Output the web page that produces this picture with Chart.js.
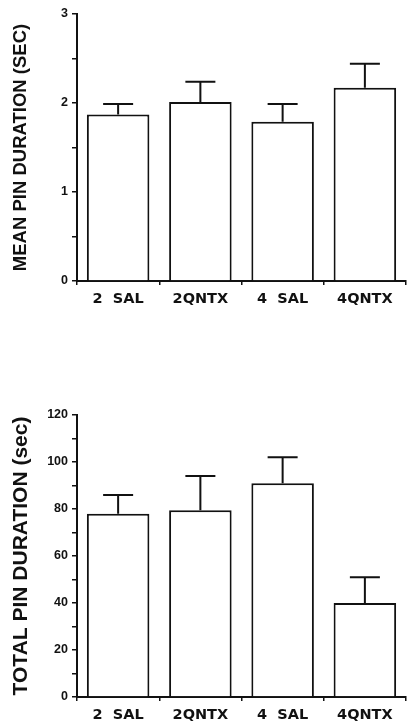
<!DOCTYPE html>
<html>
<head>
<meta charset="utf-8">
<script src="https://cdn.jsdelivr.net/npm/chart.js@4/dist/chart.umd.min.js"></script>
<style>
  html, body { margin: 0; padding: 0; background: #fff; }
  body { width: 411px; height: 727px; position: relative; overflow: hidden; }
  canvas { position: absolute; left: 0; }
  #meanChart { top: 0; }
  #totalChart { top: 380px; }
</style>
</head>
<body>
<canvas id="meanChart" width="411" height="320"></canvas>
<canvas id="totalChart" width="411" height="347"></canvas>
<script>
// groups along the x axis
const categories = ['2  SAL', '2QNTX', '4  SAL', '4QNTX'];

// top panel: mean pin duration (sec), bar + upper error
const meanPin = [1.87, 2.01, 1.79, 2.17];
const meanPinErr = [0.12, 0.23, 0.20, 0.27];
const meanTicks = [0, 1, 2, 3];

// bottom panel: total pin duration (sec), bar + upper error
const totalPin = [78, 79.5, 91, 40];
const totalPinErr = [8, 14.5, 11, 11];
const totalTicks = [0, 20, 40, 60, 80, 100, 120];

const INK = '#111';
const tickFont = { family: "'Liberation Sans', Arial, sans-serif", size: 12.5, weight: 'bold' };
const catFont = { family: "'DejaVu Sans', sans-serif", size: 14.5, weight: 'bold' };
const titleFamily = "'Liberation Sans', Arial, sans-serif";

// draws the upward error whisker of each bar
const upperErrorBars = {
  id: 'upperErrorBars',
  afterDatasetsDraw(chart) {
    const errs = chart.options.plugins.upperErrorBars.errors;
    const yScale = chart.scales.y;
    const meta = chart.getDatasetMeta(0);
    const values = chart.data.datasets[0].data;
    const ctx = chart.ctx;
    ctx.save();
    ctx.strokeStyle = INK;
    ctx.lineWidth = 2;
    meta.data.forEach((bar, i) => {
      const yBase = yScale.getPixelForValue(values[i]);
      const yTop = yScale.getPixelForValue(values[i] + errs[i]);
      ctx.beginPath();
      ctx.moveTo(bar.x, yBase);
      ctx.lineTo(bar.x, yTop);
      ctx.moveTo(bar.x - 15, yTop);
      ctx.lineTo(bar.x + 15, yTop);
      ctx.stroke();
    });
    ctx.restore();
  }
};

function makeChart(id, values, errs, ticks, minorStep, title, titleSize, titlePad, xHeight, topPad) {
  const max = ticks[ticks.length - 1];
  return new Chart(document.getElementById(id), {
    type: 'bar',
    data: {
      labels: categories,
      datasets: [{
        data: values,
        backgroundColor: '#fff',
        borderColor: INK,
        borderWidth: 2,
        barPercentage: 0.76,
        categoryPercentage: 1
      }]
    },
    options: {
      responsive: false,
      animation: false,
      layout: { padding: { top: topPad, right: 5, left: 0, bottom: 0 } },
      plugins: {
        legend: { display: false },
        tooltip: { enabled: false },
        upperErrorBars: { errors: errs }
      },
      scales: {
        x: {
          grid: { display: true, offset: true, drawOnChartArea: false, drawTicks: true, tickLength: 4, color: INK, lineWidth: 1.5 },
          border: { display: true, color: INK, width: 2 },
          ticks: { color: INK, font: catFont, padding: 6, maxRotation: 0 },
          afterFit(scale) { scale.height = xHeight; }
        },
        y: {
          min: 0,
          max: max,
          grid: { display: true, drawOnChartArea: false, drawTicks: true, tickLength: 5, color: INK, lineWidth: 1.5 },
          border: { display: true, color: INK, width: 2 },
          ticks: {
            stepSize: minorStep,
            color: INK,
            font: tickFont,
            padding: 4,
            callback: (v) => ticks.includes(v) ? String(v) : ''
          },
          title: {
            display: true,
            text: title,
            color: INK,
            font: { family: titleFamily, size: titleSize, weight: 'bold', lineHeight: 1 },
            padding: { top: titlePad, bottom: 0 }
          },
          afterFit(scale) { scale.width = 77; }
        }
      }
    },
    plugins: [upperErrorBars]
  });
}

makeChart('meanChart', meanPin, meanPinErr, meanTicks, 0.5, 'MEAN PIN DURATION (SEC)', 18.5, 12, 39, 14);
makeChart('totalChart', totalPin, totalPinErr, totalTicks, 10, 'TOTAL PIN DURATION (sec)', 21, 11, 30, 35);
</script>
</body>
</html>
